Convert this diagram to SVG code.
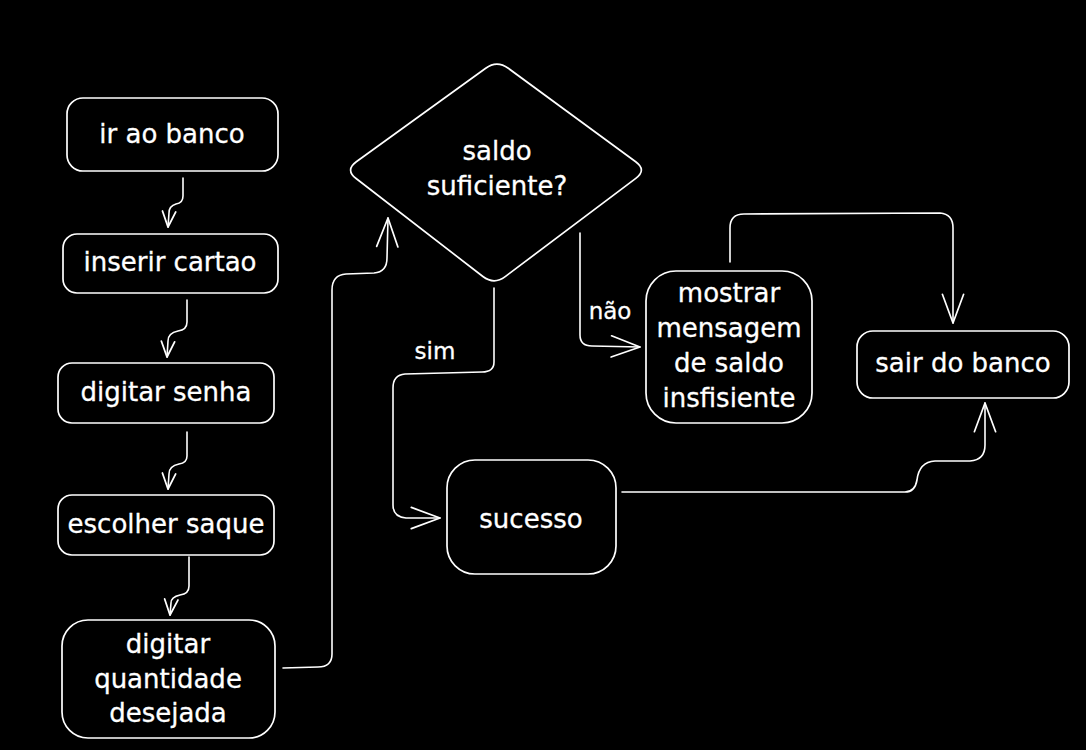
<svg xmlns="http://www.w3.org/2000/svg" width="1086" height="750" viewBox="0 0 1086 750">
<defs>
<style>
.bg{fill:#000}
.shape{fill:#000;stroke:#fff;stroke-width:1.7;stroke-linejoin:round}
.edge{fill:none;stroke:#fff;stroke-width:1.6;stroke-linecap:round;stroke-linejoin:round}
.t{fill:#fff;stroke:#fff;stroke-width:0.3;font-family:"DejaVu Sans","Noto Sans",sans-serif;font-size:26px;text-anchor:middle}
.lbl{fill:#fff;stroke:#fff;stroke-width:0.3;font-family:"DejaVu Sans","Noto Sans",sans-serif;font-size:23px;text-anchor:middle}
</style>
<marker id="arrS" markerUnits="userSpaceOnUse" markerWidth="20" markerHeight="20" viewBox="-16 -8 18 16" refX="0" refY="0" orient="auto">
<path d="M-14,-6 L0,0 L-14,6" fill="none" stroke="#fff" stroke-width="1.6" stroke-linecap="round" stroke-linejoin="round"/>
</marker>
<marker id="arrL" markerUnits="userSpaceOnUse" markerWidth="34" markerHeight="28" viewBox="-30 -13 32 26" refX="0" refY="0" orient="auto">
<path d="M-27,-10 L0,0 L-27,10" fill="none" stroke="#fff" stroke-width="1.6" stroke-linecap="round" stroke-linejoin="round"/>
</marker>
</defs>
<rect class="bg" x="0" y="0" width="1086" height="750"/>

<g id="connectors">
<path class="edge" d="M183,178 L183,196 Q183,203 176,204 Q169,206 169,213 L168,227" marker-end="url(#arrS)"/>
<path class="edge" d="M187,300 L187,322 Q187,330 178,331 Q168,333 168,341 L167,357" marker-end="url(#arrS)"/>
<path class="edge" d="M187,432 L187,456 Q187,463 179,464 Q169,466 169,474 L168,489" marker-end="url(#arrS)"/>
<path class="edge" d="M189,557 L189,586 Q189,594 180,595 Q171,597 171,603 L170,615" marker-end="url(#arrS)"/>
<path class="edge" d="M283,668 L318,667 Q332,667 332,654 L332,290 Q332,275 346,274 L374,273 Q387,272 387,258 L388,218" marker-end="url(#arrL)"/>
<path class="edge" d="M494,288 L494,362 Q494,372 482,372 L405,374 Q393,375 393,388 L393,505 Q393,517 406,518 L440,518" marker-end="url(#arrL)"/>
<path class="edge" d="M580,233 L580,335 Q580,346 592,346 L640,347" marker-end="url(#arrL)"/>
<path class="edge" d="M730,262 L730,228 Q730,214 744,214 L940,213 Q953,214 953,228 L953,323" marker-end="url(#arrL)"/>
<path class="edge" d="M622,492 L905,492 Q915,492 917,480 Q919,462 935,461 L970,461 Q985,460 985,445 L985,403" marker-end="url(#arrL)"/>
<text class="lbl" x="435" y="359">sim</text>
<text class="lbl" x="610" y="319">não</text>
</g>

<g id="n-ir-ao-banco">
<rect class="shape" x="67" y="98" width="211" height="73" rx="16"/>
<text class="t" x="172" y="143">ir ao banco</text>
</g>
<g id="n-inserir-cartao">
<rect class="shape" x="63" y="234" width="215" height="59" rx="14"/>
<text class="t" x="170" y="271">inserir cartao</text>
</g>
<g id="n-digitar-senha">
<rect class="shape" x="58" y="363" width="216" height="60" rx="14"/>
<text class="t" x="166" y="401">digitar senha</text>
</g>
<g id="n-escolher-saque">
<rect class="shape" x="58" y="495" width="216" height="60" rx="14"/>
<text class="t" x="166" y="533">escolher saque</text>
</g>
<g id="n-digitar-quantidade">
<rect class="shape" x="62" y="620" width="213" height="118" rx="26"/>
<text class="t" x="168" y="653">digitar</text>
<text class="t" x="168" y="688">quantidade</text>
<text class="t" x="168" y="722">desejada</text>
</g>
<g id="n-saldo-suficiente">
<path class="shape" d="M356.3,161.8 L485.7,68.2 Q497,60 508.3,68.3 L635.7,161.7 Q647,170 635.8,178.4 L505.2,276.6 Q494,285 482.9,276.5 L356.1,178.5 Q345,170 356.3,161.8 Z"/>
<text class="t" x="497" y="160">saldo</text>
<text class="t" x="497" y="195">suficiente?</text>
</g>
<g id="n-mostrar-mensagem">
<rect class="shape" x="646" y="271" width="166" height="152" rx="30"/>
<text class="t" x="729" y="302">mostrar</text>
<text class="t" x="729" y="337">mensagem</text>
<text class="t" x="729" y="372">de saldo</text>
<text class="t" x="729" y="407">insfisiente</text>
</g>
<g id="n-sair-do-banco">
<rect class="shape" x="857" y="331" width="212" height="67" rx="16"/>
<text class="t" x="963" y="372">sair do banco</text>
</g>
<g id="n-sucesso">
<rect class="shape" x="447" y="460" width="169" height="114" rx="28"/>
<text class="t" x="531" y="528">sucesso</text>
</g>
</svg>
